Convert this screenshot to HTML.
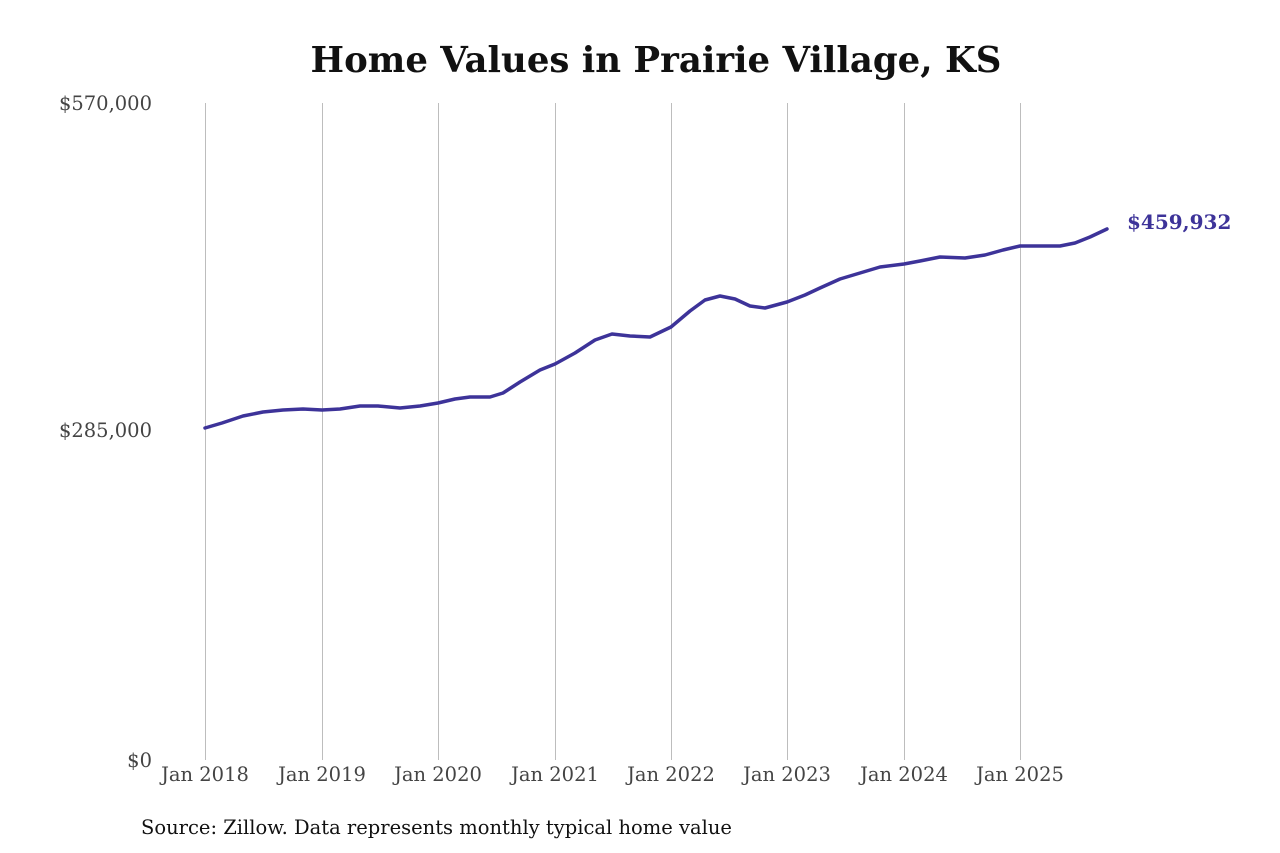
<!DOCTYPE html>
<html><head><meta charset="utf-8"><style>
html,body{margin:0;padding:0;background:#fff;}
svg{display:block;}
</style></head><body>
<svg width="1280" height="853" xmlns="http://www.w3.org/2000/svg" font-family="'DejaVu Serif', 'Liberation Serif', serif">
<rect width="1280" height="853" fill="#fff"/>
<text x="656" y="72" text-anchor="middle" font-size="35.5" font-weight="bold" fill="#111">Home Values in Prairie Village, KS</text>
<g stroke="#bdbdbd" stroke-width="1">
<line x1="205.5" y1="103" x2="205.5" y2="760"/>
<line x1="322.5" y1="103" x2="322.5" y2="760"/>
<line x1="438.5" y1="103" x2="438.5" y2="760"/>
<line x1="555.5" y1="103" x2="555.5" y2="760"/>
<line x1="671.5" y1="103" x2="671.5" y2="760"/>
<line x1="787.5" y1="103" x2="787.5" y2="760"/>
<line x1="904.5" y1="103" x2="904.5" y2="760"/>
<line x1="1020.5" y1="103" x2="1020.5" y2="760"/>
</g>
<g font-size="19.5" fill="#444" text-anchor="end">
<text x="152" y="110">$570,000</text>
<text x="152" y="437">$285,000</text>
<text x="152" y="767">$0</text>
</g>
<g font-size="19.5" fill="#444" text-anchor="middle">
<text x="205" y="781">Jan 2018</text>
<text x="322" y="781">Jan 2019</text>
<text x="438" y="781">Jan 2020</text>
<text x="555" y="781">Jan 2021</text>
<text x="671" y="781">Jan 2022</text>
<text x="787" y="781">Jan 2023</text>
<text x="904" y="781">Jan 2024</text>
<text x="1020" y="781">Jan 2025</text>
</g>
<polyline fill="none" stroke="#3d3399" stroke-width="3.5" stroke-linejoin="round" stroke-linecap="round" points="205,428 222,423 243,416 263,412 283,410 303,409 322,410 340,409 360,406 378,406 400,408 420,406 438,403 455,399 470,397 490,397 503,393 520,382 540,370 555,364 575,353 595,340 612,334 630,336 650,337 671,327 690,311 705,300 720,296 735,299 750,306 765,308 787,302 805,295 820,288 840,279 860,273 880,267 904,264 920,261 940,257 965,258 985,255 1003,250 1020,246 1040,246 1060,246 1075,243 1090,237 1107,229"/>
<text x="1127" y="229" font-size="20" font-weight="bold" fill="#3d3399">$459,932</text>
<text x="141" y="834" font-size="19.5" fill="#111">Source: Zillow. Data represents monthly typical home value</text>
</svg>
</body></html>
